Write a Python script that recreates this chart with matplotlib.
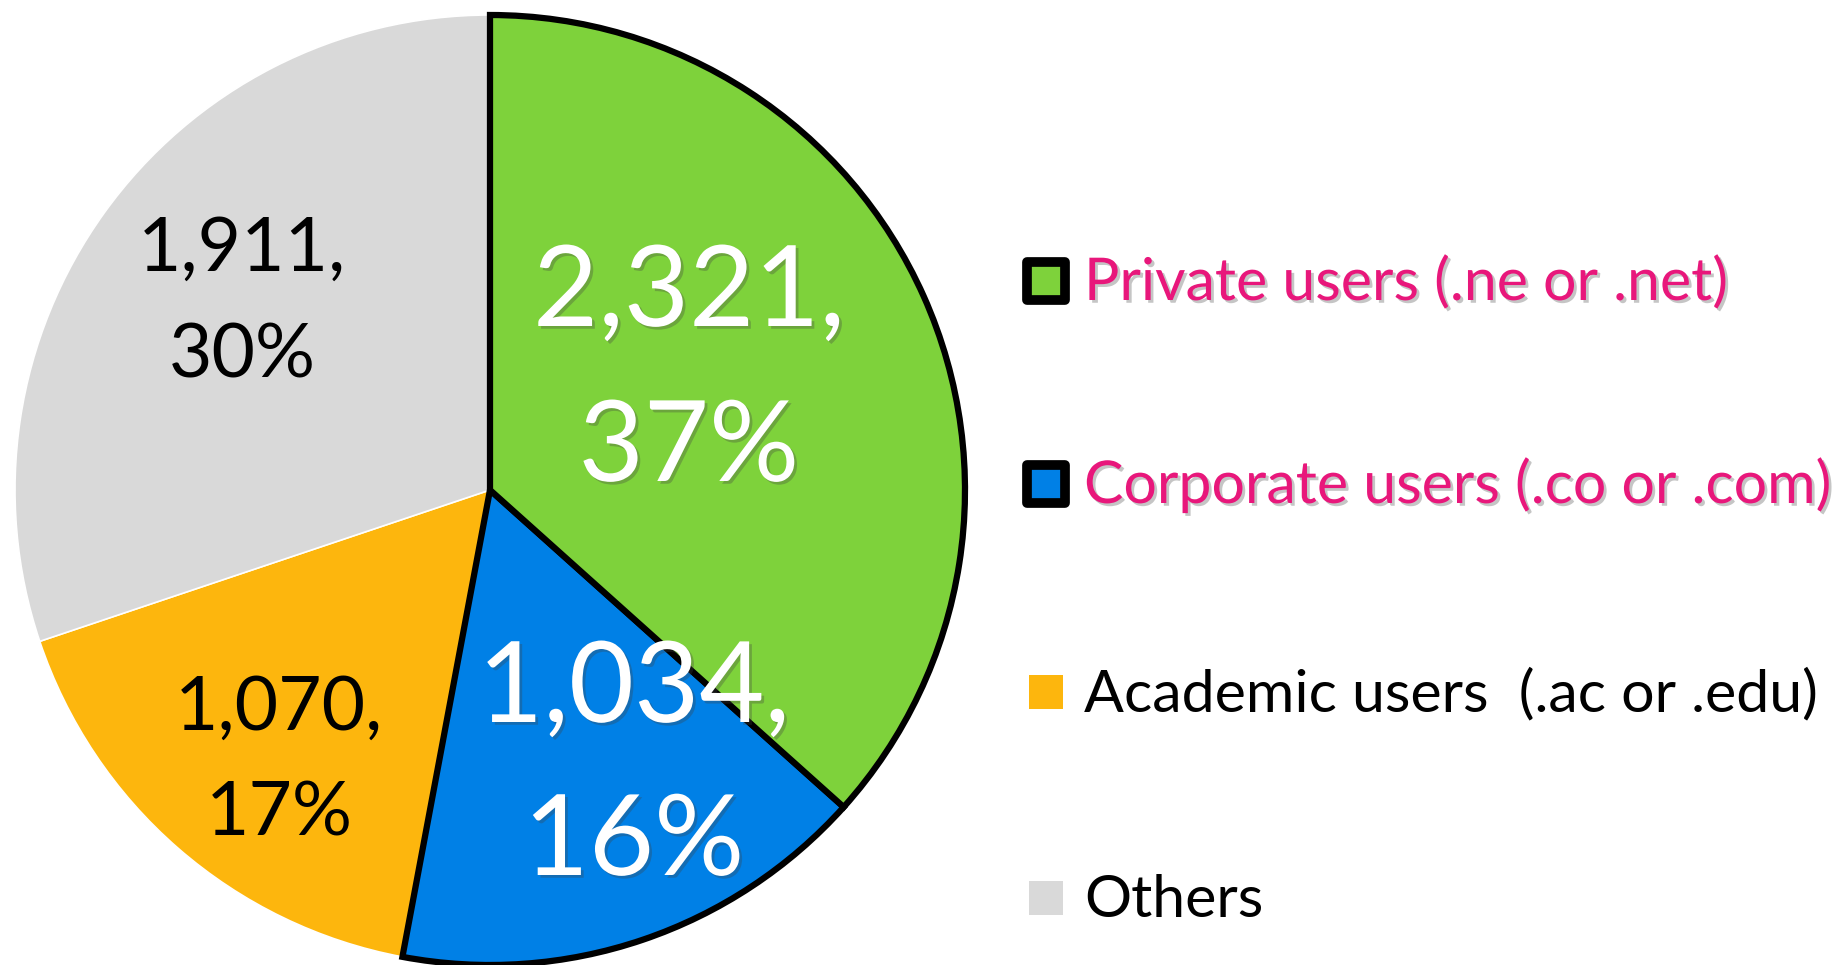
import matplotlib
matplotlib.use("Agg")
from matplotlib import pyplot as plt
import matplotlib.patheffects as pe

# ==================== Data ====================
categories = ["Private users (.ne or .net)", "Corporate users (.co or .com)",
              "Academic users  (.ac or .edu)", "Others"]
counts = [2321, 1034, 1070, 1911]
percents = [37, 16, 17, 30]
colors = ["#7ED23B", "#0080E6", "#FDB60D", "#D9D9D9"]
label_colors = ["white", "white", "black", "black"]
legend_colors = ["#E8177B", "#E8177B", "black", "black"]

W, H = 1839, 965
plt.rcParams["font.family"] = ["Lato", "DejaVu Sans"]

fig = plt.figure(figsize=(W / 100, H / 100), dpi=100)
ax = fig.add_axes([0, 0, 1, 1])

cx, cy, R = 490, H - 490, 475

wedges, _ = ax.pie(counts, colors=colors, startangle=90, counterclock=False,
                   center=(cx, cy), radius=R, frame=True,
                   wedgeprops=dict(edgecolor="white", linewidth=1.2))
ax.set_xlim(0, W)
ax.set_ylim(0, H)
ax.set_aspect("equal")
ax.axis("off")

# black outline on the first two slices, drawn on top
for i in (1, 0):
    wedges[i].set_edgecolor("black")
    wedges[i].set_linewidth(4.5)
    wedges[i].set_zorder(3 + (1 - i))

shadow = [pe.SimplePatchShadow(offset=(2, -2), shadow_rgbFace="#404040", alpha=0.3), pe.Normal()]

# label layout: (x centre, baseline of first line, baseline of second line, size)
label_pos = [(689, 326, 481, 81), (634, 722, 875, 81), (279, 730, 836, 54), (242, 271, 377, 54)]
for i, (x, y1, y2, fs) in enumerate(label_pos):
    eff = shadow if label_colors[i] == "white" else None
    ax.text(x, H - y1, f"{counts[i]:,},", ha="center", va="baseline", fontsize=fs,
            color=label_colors[i], path_effects=eff, zorder=10)
    ax.text(x, H - y2, f"{percents[i]}%", ha="center", va="baseline", fontsize=fs,
            color=label_colors[i], path_effects=eff, zorder=10)

# ==================== Legend ====================
rows = [281, 484, 692, 898]
for i, y in enumerate(rows):
    if i < 2:
        ax.scatter([1046], [H - y], marker="s", s=760, facecolor=colors[i],
                   edgecolor="black", linewidth=7, zorder=10)
    else:
        ax.scatter([1046], [H - y], marker="s", s=620, facecolor=colors[i],
                   edgecolor="none", zorder=10)
    eff = shadow if i < 2 else None
    ax.text(1084, H - y - 19, categories[i], ha="left", va="baseline", fontsize=42.5,
            color=legend_colors[i], path_effects=eff, zorder=10)

plt.savefig("out.png", dpi=100)
